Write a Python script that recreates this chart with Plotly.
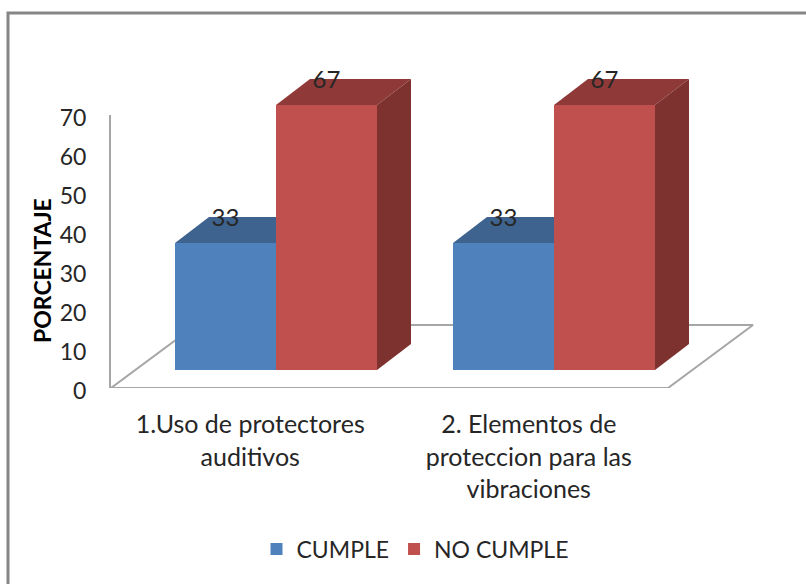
import plotly.graph_objects as go

categories = ["1.Uso de protectores<br>auditivos", "2. Elementos de<br>proteccion para las<br>vibraciones"]
series_names = ["CUMPLE", "NO CUMPLE"]
cumple = [33, 33]
no_cumple = [67, 67]
y_ticks = [0, 10, 20, 30, 40, 50, 60, 70]

W, H = 806, 584
FONT = "Lato"
TEXT = "#262626"
GRID = "#a6a6a6"

# 3d look: faces are pushed back from the front plane by this much (axis units)
PX_PER_UNIT = 4.06
DX = 34 / 278.0
DY = 26 / PX_PER_UNIT
BAR_W = 101 / 278.0
# the bars' axis starts a little above zero, bars get cut at the floor
BAR_AXIS_MIN = 1.72

front = ["#4f81bd", "#c0504d"]
top = ["#3e638f", "#8f3a38"]
side = ["#3a5c85", "#7d3230"]

xs = [0, 1]
fig = go.Figure()

# floor of the chart, on the main axes
floor_dx = 85 / 278.5
floor_dy = 63 / 3.9
fig.add_trace(go.Scatter(x=[-0.5, -0.5 + floor_dx, 1.5 + floor_dx, 1.5, -0.5],
                         y=[0, floor_dy, floor_dy, 0, 0],
                         mode="lines", line=dict(color=GRID, width=2),
                         showlegend=False, hoverinfo="skip", cliponaxis=False))


def poly(xv, yv, color):
    fig.add_trace(go.Scatter(x=xv, y=yv, mode="lines", fill="toself", fillcolor=color,
                             line=dict(width=0), showlegend=False, hoverinfo="skip",
                             xaxis="x2", yaxis="y2", cliponaxis=False))


for i, x0 in enumerate(xs):
    # blue is hidden behind the red bar from its right edge on
    l, m, r = x0 - BAR_W, x0, x0 + BAR_W
    poly([l, l + DX, m, m], [cumple[i], cumple[i] + DY, cumple[i] + DY, cumple[i]], top[0])
    poly([m, m + DX, r + DX, r], [no_cumple[i], no_cumple[i] + DY, no_cumple[i] + DY, no_cumple[i]], top[1])
    poly([r, r + DX, r + DX, r], [BAR_AXIS_MIN, BAR_AXIS_MIN + DY, no_cumple[i] + DY, no_cumple[i]], side[1])

fig.add_trace(go.Bar(x=xs, y=cumple, name=series_names[0], marker=dict(color=front[0], line=dict(width=0)),
                     xaxis="x2", yaxis="y2", hoverinfo="skip"))
fig.add_trace(go.Bar(x=xs, y=no_cumple, name=series_names[1], marker=dict(color=front[1], line=dict(width=0)),
                     xaxis="x2", yaxis="y2", hoverinfo="skip"))

# value labels sit on the top faces
for vals, off in ((cumple, -BAR_W / 2), (no_cumple, BAR_W / 2)):
    fig.add_trace(go.Scatter(x=[v + off for v in xs], y=[v + DY - 0.7 for v in vals],
                             mode="text", text=[str(v) for v in vals],
                             textposition="middle center",
                             textfont=dict(family=FONT, size=24, color=TEXT),
                             xaxis="x2", yaxis="y2", showlegend=False, hoverinfo="skip", cliponaxis=False))

fig.update_layout(
    width=W, height=H, margin=dict(l=0, r=0, t=0, b=0, autoexpand=False),
    paper_bgcolor="white", plot_bgcolor="rgba(0,0,0,0)",
    barmode="group", bargap=76 / 278.0, bargroupgap=0,
    font=dict(family=FONT, color=TEXT),
    # the main x axis runs on past the floor so the back edge is not cut off
    xaxis=dict(domain=[111 / W, (111 + 2.4 * 278.5) / W], range=[-0.5, 1.9], tickvals=xs, ticktext=categories,
               showgrid=False, zeroline=False, showline=False,
               ticks="", ticklabelstandoff=19, tickfont=dict(family=FONT, size=25, color=TEXT), fixedrange=True),
    yaxis=dict(domain=[(H - 388) / H, (H - 115) / H], range=[0, 70], tickvals=y_ticks,
               showgrid=False, zeroline=False, showline=True, linecolor=GRID, linewidth=2,
               ticks="", ticklabelstandoff=18, ticklabelshift=3,
               tickfont=dict(family=FONT, size=23, color=TEXT), fixedrange=True),
    xaxis2=dict(domain=[137 / W, 693 / W], range=[-0.5, 1.5], visible=False, fixedrange=True, anchor="y2"),
    yaxis2=dict(domain=[(H - 370) / H, (H - 370 + (85 - BAR_AXIS_MIN) * PX_PER_UNIT) / H],
                range=[BAR_AXIS_MIN, 85], visible=False, fixedrange=True, anchor="x2"),
    legend=dict(orientation="h", x=415 / W, xanchor="center", y=(H - 549) / H, yanchor="middle",
                font=dict(family=FONT, size=23, color=TEXT), bgcolor="rgba(0,0,0,0)"),
    shapes=[dict(type="rect", xref="paper", yref="paper", x0=8 / W, x1=1.02, y0=-0.02, y1=(H - 13) / H,
                 line=dict(color="#868686", width=3), layer="below")],
    annotations=[dict(text="<b>PORCENTAJE</b>", x=42 / W, y=(H - 271) / H, xref="paper", yref="paper",
                      textangle=-90, showarrow=False, xanchor="center", yanchor="middle",
                      font=dict(family=FONT, size=23, color="black"))],
)

fig.write_html("out.html", config={"displayModeBar": False}, post_script="document.body.style.margin = '0';")
